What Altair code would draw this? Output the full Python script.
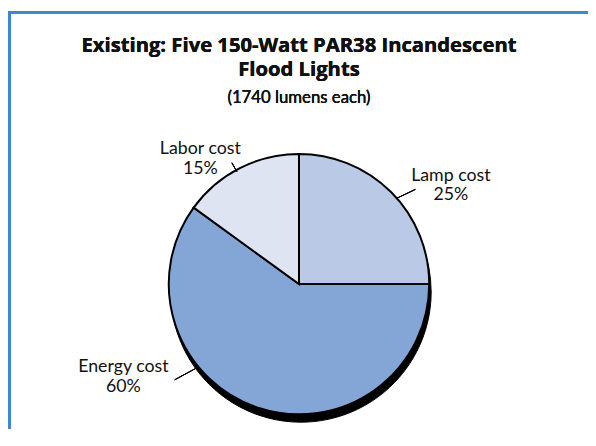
import altair as alt
import pandas as pd

# ---- data ----
categories = ["Lamp cost", "Energy cost", "Labor cost"]
shares = [25, 60, 15]
slice_order = [1, 2, 3]
slice_colors = ["#bac9e6", "#84a6d6", "#dfe4f2"]

title_lines = ["Existing: Five 150-Watt PAR38 Incandescent", "Flood Lights"]
subtitle = "(1740 lumens each)"

df = pd.DataFrame({"cat": categories, "share": shares, "idx": slice_order})

FONT = "Lato"
TFONT = "Open Sans"
W, H = 588, 424
CX, CY, R = 295, 277, 132
BORDER = "#3d87d5"

base = alt.Chart(df)

shadow = base.mark_arc(radius=R, fill="black", stroke="black").encode(
    theta=alt.Theta("share:Q", stack=True),
    order=alt.Order("idx:Q"),
    x=alt.value(CX + 2),
    y=alt.value(CY + 8),
)

pie = base.mark_arc(radius=R, stroke="black", strokeWidth=2).encode(
    theta=alt.Theta("share:Q", stack=True),
    order=alt.Order("idx:Q"),
    color=alt.Color("cat:N", scale=alt.Scale(domain=categories, range=slice_colors), legend=None),
    x=alt.value(CX),
    y=alt.value(CY),
)

label_pos = [("Lamp cost", 449, 172), ("Labor cost", 195, 145), ("Energy cost", 117, 366)]
labels = []
for cat, lx, ly in label_pos:
    labels.append(
        base.transform_filter(alt.datum.cat == cat)
        .transform_calculate(lab="datum.cat + '\\n' + datum.share + '%'")
        .mark_text(font=FONT, fontSize=18, lineBreak="\n", lineHeight=20,
                   align="center", baseline="alphabetic", color="#111")
        .encode(text="lab:N", x=alt.value(lx), y=alt.value(ly))
    )

leaders = [(413, 181, 394, 190), (227, 154, 232, 163), (169, 374, 193, 361)]
leader_layers = [
    alt.Chart(df).mark_rule(color="black", strokeWidth=1).encode(
        x=alt.value(a), y=alt.value(b), x2=alt.value(c), y2=alt.value(d)
    )
    for a, b, c, d in leaders
]

border_top = alt.Chart(df).mark_rect(color=BORDER).encode(
    x=alt.value(0), x2=alt.value(W), y=alt.value(0), y2=alt.value(3)
)
border_left = alt.Chart(df).mark_rect(color=BORDER).encode(
    x=alt.value(0), x2=alt.value(3), y=alt.value(0), y2=alt.value(H)
)

t1 = alt.Chart(df).mark_text(text=title_lines[0], font=TFONT, fontSize=20.5, fontWeight="bold",
                              align="center", baseline="alphabetic", color="#111").encode(
    x=alt.value(CX), y=alt.value(42))
t2 = alt.Chart(df).mark_text(text=title_lines[1], font=TFONT, fontSize=20.5, fontWeight="bold",
                              align="center", baseline="alphabetic", color="#111").encode(
    x=alt.value(CX), y=alt.value(66))
t3 = alt.Chart(df).mark_text(text=subtitle, font=FONT, fontSize=17, fontWeight="normal",
                              align="center", baseline="alphabetic", color="#111").encode(
    x=alt.value(CX), y=alt.value(93))

chart = alt.layer(
    border_top, border_left, shadow, pie, *leader_layers, *labels, t1, t2, t3
).properties(
    width=W, height=H, autosize=alt.AutoSizeParams(type="none"), padding=0,
    background="white"
).configure_view(strokeWidth=0, stroke="white")

chart.save("out.html", embed_options={"renderer": "svg", "actions": False})
